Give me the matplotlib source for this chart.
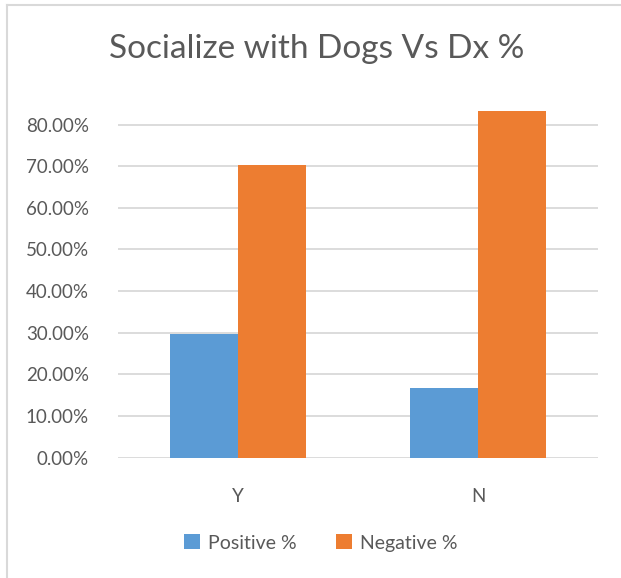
import matplotlib
matplotlib.use("Agg")
import matplotlib.pyplot as plt
from matplotlib.lines import Line2D
from matplotlib.ticker import FuncFormatter
import numpy as np

categories = ["Y", "N"]
positive = [0.298, 0.167]
negative = [0.702, 0.833]
series_names = ["Positive %", "Negative %"]
title = "Socialize with Dogs Vs Dx %"

W, H = 621, 578
fig = plt.figure(figsize=(W / 100, H / 100), dpi=100)
fig.patch.set_facecolor("white")

text_color = "#595959"
grid_color = "#D9D9D9"
blue = "#5B9BD5"
orange = "#ED7D31"
font = "Lato"

ax = fig.add_axes([118 / W, (H - 457.7) / H, 480 / W, (457.7 - 103.7) / H])
x = np.arange(len(categories))
bw = 0.2847
ax.bar(x - bw / 2, positive, bw, color=blue, label=series_names[0], zorder=3)
ax.bar(x + bw / 2, negative, bw, color=orange, label=series_names[1], zorder=3)

ax.set_xlim(-0.5, 1.5)
ax.set_ylim(0, 0.85)
ax.set_yticks(np.arange(0, 0.81, 0.1))
ax.yaxis.set_major_formatter(FuncFormatter(lambda v, p: f"{v * 100:.2f}%"))
ax.set_xticks(x)
ax.set_xticklabels(categories)
ax.grid(axis="y", color=grid_color, linewidth=1.3, zorder=0)
for s in ax.spines.values():
    s.set_visible(False)
ax.tick_params(axis="both", length=0, labelsize=13.5, labelcolor=text_color)
ax.tick_params(axis="y", pad=21)
ax.tick_params(axis="x", pad=22)
for lab in ax.get_xticklabels() + ax.get_yticklabels():
    lab.set_fontfamily(font)

fig.text(317 / W, 1 - 49 / H, title, ha="center", va="center",
         fontsize=24, color=text_color, family=font)

leg = fig.legend(loc="center", bbox_to_anchor=(321 / W, 1 - 543 / H),
                 ncol=2, frameon=False, handlelength=0.8, handleheight=0.8,
                 handletextpad=0.45, columnspacing=2.0,
                 prop={"family": font, "size": 14})
for t in leg.get_texts():
    t.set_color(text_color)

fig.add_artist(Line2D([6.5 / W, 6.5 / W], [0, 1 - 5 / H],
                      transform=fig.transFigure, color=grid_color, lw=1.5))
fig.add_artist(Line2D([6.5 / W, 1], [1 - 5 / H, 1 - 5 / H],
                      transform=fig.transFigure, color=grid_color, lw=1.5))

fig.savefig("out.png", dpi=100, facecolor="white")
